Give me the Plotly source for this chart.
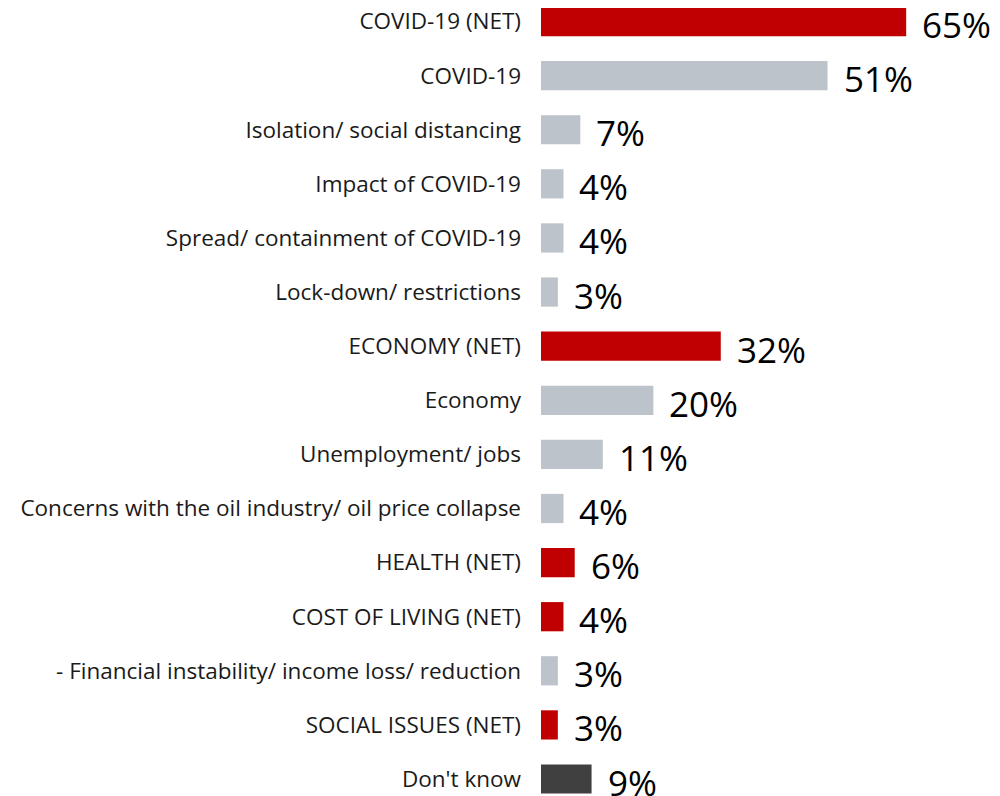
import plotly.graph_objects as go

categories = [
    "COVID-19 (NET)",
    "COVID-19",
    "Isolation/ social distancing",
    "Impact of COVID-19",
    "Spread/ containment of COVID-19",
    "Lock-down/ restrictions",
    "ECONOMY (NET)",
    "Economy",
    "Unemployment/ jobs",
    "Concerns with the oil industry/ oil price collapse",
    "HEALTH (NET)",
    "COST OF LIVING (NET)",
    "- Financial instability/ income loss/ reduction",
    "SOCIAL ISSUES (NET)",
    "Don't know",
]
values = [65, 51, 7, 4, 4, 3, 32, 20, 11, 4, 6, 4, 3, 3, 9]
kinds = ["net", "sub", "sub", "sub", "sub", "sub", "net", "sub", "sub", "sub",
         "net", "net", "sub", "net", "dk"]

colors = {"net": "#C00000", "sub": "#BCC3CA", "dk": "#404040"}
positions = list(range(len(categories)))

fig = go.Figure()
fig.add_trace(go.Bar(
    x=values,
    y=positions,
    orientation="h",
    width=0.54,
    marker=dict(color=[colors[k] for k in kinds], line=dict(width=0)),
    hoverinfo="skip",
))

# value labels to the right of each bar
for pos, val in zip(positions, values):
    fig.add_annotation(
        x=val, y=pos, text=f"{val}%", showarrow=False,
        xanchor="left", yanchor="middle", xshift=14, yshift=-3,
        font=dict(family="Open Sans", size=35, color="#000000"),
    )

fig.update_layout(
    width=992, height=788,
    margin=dict(l=533, r=0, t=0, b=0),
    paper_bgcolor="white", plot_bgcolor="white",
    showlegend=False,
    font=dict(family="Open Sans", size=22.5, color="#1a1a1a"),
)
fig.update_xaxes(range=[0, 81.7], visible=False, showgrid=False, automargin=False)
fig.update_yaxes(
    range=[14.314, -0.25],
    tickvals=positions, ticktext=categories,
    showgrid=False, zeroline=False, showline=False, ticks="",
    ticklabelstandoff=19, ticklabeloverflow="allow", automargin=False,
)

fig.write_html("out.html")
